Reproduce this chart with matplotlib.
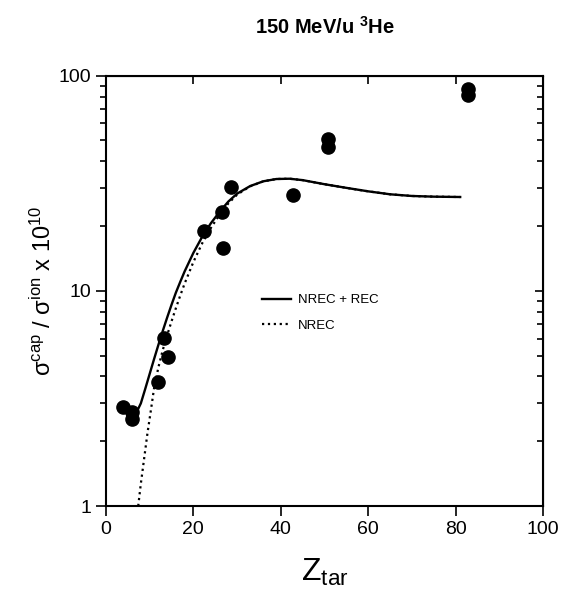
import matplotlib.pyplot as plt

plt.rcParams['font.family'] = ['Liberation Sans', 'DejaVu Sans']
plt.rcParams['mathtext.fontset'] = 'custom'
plt.rcParams['mathtext.rm'] = 'Liberation Sans'
plt.rcParams['mathtext.it'] = 'Liberation Sans:italic'
plt.rcParams['mathtext.bf'] = 'Liberation Sans:bold'

# measured points
z_data = [4, 6, 6, 12, 13.3, 14.2, 22.5, 26.5, 26.7, 28.7, 42.7, 50.8, 50.8, 82.9, 82.9]
ratio_data = [2.9, 2.73, 2.53, 3.78, 6.05, 4.92, 18.9, 23.3, 15.9, 30.4, 28.0, 51.0, 46.8, 86.5, 81.1]

# NREC + REC (solid)
z_total = [4, 5.5, 7, 8, 9, 10, 11, 12, 13, 14, 15, 16, 17, 18, 20, 22, 24, 26, 28,
           30, 33, 36, 39, 42, 45, 50, 55, 60, 65, 70, 75, 81]
ratio_total = [2.75, 2.66, 2.72, 3.0, 3.5, 4.1, 4.8, 5.6, 6.5, 7.5, 8.6, 9.8, 11.0, 12.3,
               15.0, 17.8, 20.6, 23.3, 26.0, 28.3, 30.7, 32.3, 33.1, 33.2, 32.7, 31.3,
               30.1, 29.0, 28.1, 27.6, 27.4, 27.3]

# NREC (dotted)
z_nrec = [7.4, 8, 8.7, 9.5, 10.3, 11, 12, 13, 14, 15, 16, 17, 18, 20, 22, 24, 26, 28,
          30, 33, 36, 39, 42, 45, 50, 55, 60, 65, 70, 75, 81]
ratio_nrec = [1.0, 1.27, 1.63, 2.17, 2.79, 3.5, 4.4, 5.3, 6.2, 7.2, 8.3, 9.5, 10.8,
              13.6, 16.6, 19.6, 22.6, 25.5, 28.0, 30.6, 32.3, 33.1, 33.2, 32.7, 31.3,
              30.1, 29.0, 28.1, 27.6, 27.4, 27.3]

fig = plt.figure(figsize=(5.63, 5.96), dpi=100)
ax = fig.add_axes([0.188, 0.151, 0.777, 0.722])

ax.plot(z_total, ratio_total, color='black', linestyle='-', linewidth=1.7, label='NREC + REC')
ax.plot(z_nrec, ratio_nrec, color='black', linestyle=':', linewidth=1.6, label='NREC')
ax.plot(z_data, ratio_data, 'o', color='black', markersize=9.5, clip_on=False)

ax.set_yscale('log')
ax.set_xlim(0, 100)
ax.set_ylim(1, 100)
ax.set_xticks([0, 20, 40, 60, 80, 100])
ax.set_yticks([1, 10, 100])
ax.set_yticklabels(['1', '10', '100'])
ax.tick_params(which='both', direction='out', labelsize=14, width=1.2)
ax.tick_params(which='major', length=7)
ax.tick_params(which='minor', length=4)
for s in ax.spines.values():
    s.set_linewidth(1.5)

# inward ticks on the top and right frame
top = ax.secondary_xaxis('top')
top.set_xticks([0, 20, 40, 60, 80, 100])
top.tick_params(direction='in', length=6, width=1.2, labeltop=False)
right = ax.secondary_yaxis('right')
right.set_yscale('log')
right.tick_params(which='both', direction='in', width=1.2, labelright=False)
right.tick_params(which='major', length=6)
right.tick_params(which='minor', length=4)

ax.set_xlabel(r'Z$_{\rm tar}$', fontsize=23, labelpad=14)
ax.set_ylabel('σ$^{\\rm cap}$ / σ$^{\\rm ion}$ x 10$^{10}$', fontsize=17, labelpad=2)
ax.set_title(r'150 MeV/u $^{\mathbf{3}}$He', fontsize=14.5, fontweight='bold', pad=30)

ax.legend(loc='upper left', bbox_to_anchor=(0.33, 0.52), frameon=False,
          fontsize=9.5, handlelength=2.2, handletextpad=0.5, labelspacing=1.0)

plt.savefig('out.png', dpi=100)
